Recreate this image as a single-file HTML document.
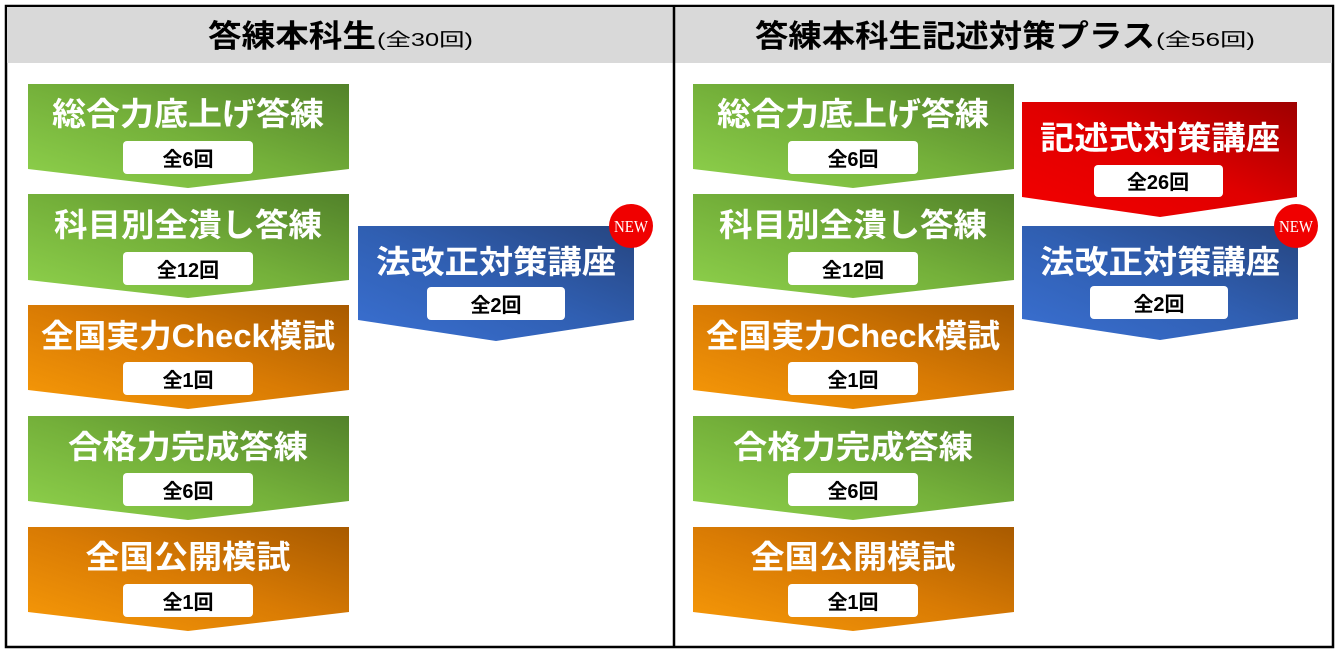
<!DOCTYPE html>
<html><head><meta charset="utf-8"><style>
html,body{margin:0;padding:0;background:#fff;}
svg{display:block}
text{font-family:"Liberation Sans","Noto Sans CJK JP",sans-serif;font-weight:bold;}
</style></head><body>
<svg width="1339" height="652" viewBox="0 0 1339 652" xmlns="http://www.w3.org/2000/svg">
<defs>
<linearGradient id="g" x1="0" y1="1" x2="1" y2="0"><stop offset="0" stop-color="#8fd24c"/><stop offset="0.5" stop-color="#74b03a"/><stop offset="1" stop-color="#52822a"/></linearGradient>
<linearGradient id="o" x1="0" y1="1" x2="1" y2="0"><stop offset="0" stop-color="#f89a08"/><stop offset="0.5" stop-color="#d97b04"/><stop offset="1" stop-color="#a85a00"/></linearGradient>
<linearGradient id="b" x1="0" y1="1" x2="1" y2="0"><stop offset="0" stop-color="#3a70d2"/><stop offset="0.5" stop-color="#305fb2"/><stop offset="1" stop-color="#264580"/></linearGradient>
<linearGradient id="r" x1="0" y1="1" x2="1" y2="0"><stop offset="0" stop-color="#f40000"/><stop offset="0.5" stop-color="#e00000"/><stop offset="1" stop-color="#9e0000"/></linearGradient>
</defs>
<rect x="6" y="6" width="1327" height="641" fill="#fff" stroke="#000" stroke-width="2.5"/>
<rect x="7" y="7" width="1325" height="56" fill="#d9d9d9"/>
<line x1="674" y1="6" x2="674" y2="647" stroke="#000" stroke-width="2.5"/>
<text x="208" y="47" font-size="31" fill="#000" textLength="168" lengthAdjust="spacingAndGlyphs">答練本科生</text>
<text x="377" y="46" font-size="18" font-weight="normal" style="font-weight:normal" fill="#000" textLength="96" lengthAdjust="spacingAndGlyphs">(全30回)</text>
<text x="755" y="47" font-size="31" fill="#000" textLength="400" lengthAdjust="spacingAndGlyphs">答練本科生記述対策プラス</text>
<text x="1156" y="46" font-size="18" style="font-weight:normal" fill="#000" textLength="99" lengthAdjust="spacingAndGlyphs">(全56回)</text>

<g id="L">
<polygon points="28,84 349,84 349,169 188,188 28,169" fill="url(#g)"/>
<text x="188" y="125" font-size="32" fill="#fff" text-anchor="middle" textLength="272" lengthAdjust="spacingAndGlyphs">総合力底上げ答練</text>
<rect x="123" y="141" width="130" height="33" rx="4" fill="#fff"/>
<text x="188" y="166" font-size="20" fill="#000" text-anchor="middle">全6回</text>

<polygon points="28,194 349,194 349,280 188,298 28,280" fill="url(#g)"/>
<text x="188" y="236" font-size="32" fill="#fff" text-anchor="middle" textLength="268" lengthAdjust="spacingAndGlyphs">科目別全潰し答練</text>
<rect x="123" y="252" width="130" height="33" rx="4" fill="#fff"/>
<text x="188" y="277" font-size="20" fill="#000" text-anchor="middle">全12回</text>

<polygon points="28,305 349,305 349,390 188,409 28,390" fill="url(#o)"/>
<text x="188" y="347" font-size="32" fill="#fff" text-anchor="middle" textLength="294" lengthAdjust="spacingAndGlyphs">全国実力Check模試</text>
<rect x="123" y="362" width="130" height="33" rx="4" fill="#fff"/>
<text x="188" y="387" font-size="20" fill="#000" text-anchor="middle">全1回</text>

<polygon points="28,416 349,416 349,501 188,520 28,501" fill="url(#g)"/>
<text x="188" y="458" font-size="32" fill="#fff" text-anchor="middle" textLength="240" lengthAdjust="spacingAndGlyphs">合格力完成答練</text>
<rect x="123" y="473" width="130" height="33" rx="4" fill="#fff"/>
<text x="188" y="498" font-size="20" fill="#000" text-anchor="middle">全6回</text>

<polygon points="28,527 349,527 349,612 188,631 28,612" fill="url(#o)"/>
<text x="188" y="568" font-size="32" fill="#fff" text-anchor="middle" textLength="205" lengthAdjust="spacingAndGlyphs">全国公開模試</text>
<rect x="123" y="584" width="130" height="33" rx="4" fill="#fff"/>
<text x="188" y="609" font-size="20" fill="#000" text-anchor="middle">全1回</text>
</g>
<use href="#L" x="665" y="0"/>

<polygon points="358,226 634,226 634,320 496,341 358,320" fill="url(#b)"/>
<text x="496" y="273" font-size="32" fill="#fff" text-anchor="middle" textLength="240" lengthAdjust="spacingAndGlyphs">法改正対策講座</text>
<rect x="427" y="287" width="138" height="33" rx="4" fill="#fff"/>
<text x="496" y="312" font-size="20" fill="#000" text-anchor="middle">全2回</text>
<circle cx="631" cy="226" r="22" fill="#f00000"/>
<text x="631" y="232" font-size="17" fill="#fff" text-anchor="middle" style="font-family:'Liberation Serif',serif;font-weight:normal" textLength="34" lengthAdjust="spacingAndGlyphs">NEW</text>

<polygon points="1022,102 1297,102 1297,197 1160,217 1022,197" fill="url(#r)"/>
<text x="1160" y="149" font-size="32" fill="#fff" text-anchor="middle" textLength="240" lengthAdjust="spacingAndGlyphs">記述式対策講座</text>
<rect x="1094" y="165" width="129" height="32" rx="4" fill="#fff"/>
<text x="1158" y="189" font-size="20" fill="#000" text-anchor="middle">全26回</text>

<polygon points="1022,226 1298,226 1298,319 1160,340 1022,319" fill="url(#b)"/>
<text x="1160" y="273" font-size="32" fill="#fff" text-anchor="middle" textLength="240" lengthAdjust="spacingAndGlyphs">法改正対策講座</text>
<rect x="1090" y="286" width="138" height="33" rx="4" fill="#fff"/>
<text x="1159" y="311" font-size="20" fill="#000" text-anchor="middle">全2回</text>
<circle cx="1296" cy="226" r="22" fill="#f00000"/>
<text x="1296" y="232" font-size="17" fill="#fff" text-anchor="middle" style="font-family:'Liberation Serif',serif;font-weight:normal" textLength="34" lengthAdjust="spacingAndGlyphs">NEW</text>
</svg>
</body></html>
